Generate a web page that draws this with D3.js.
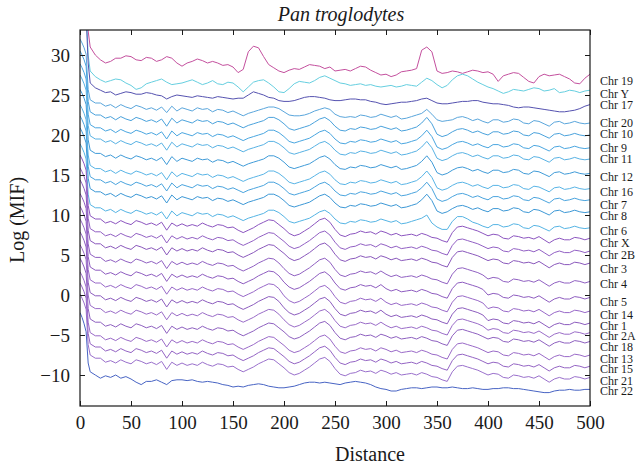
<!DOCTYPE html>
<html>
<head>
<meta charset="utf-8">
<script src="https://cdn.jsdelivr.net/npm/d3@7"></script>
<style>
  body { margin: 0; background: #fff; }
  text { font-family: "Liberation Serif", "Times New Roman", serif; fill: #1a1a1a; }
</style>
</head>
<body>
<div id="chart"></div>
<script>
// distances shared by every series
const distance = [0, 2, 4, 6, 8, 10, 15,
  20, 25, 30, 35, 40, 45, 50, 55, 60, 65, 70, 75, 80, 85, 90, 95, 100,
  105, 110, 115, 120, 125, 130, 135, 140, 145, 150, 155, 160, 165, 170, 175, 180, 185, 190, 195, 200,
  205, 210, 215, 220, 225, 230, 235, 240, 245, 250, 255, 260, 265, 270, 275, 280, 285, 290, 295, 300,
  305, 310, 315, 320, 325, 330, 335, 340, 345, 350, 355, 360, 365, 370, 375, 380, 385, 390, 395, 400,
  405, 410, 415, 420, 425, 430, 435, 440, 445, 450, 455, 460, 465, 470, 475, 480, 485, 490, 495, 500];

const chromosomes = ['Chr 19', 'Chr Y', 'Chr 17', 'Chr 20', 'Chr 10', 'Chr 9', 'Chr 11', 'Chr 12',
  'Chr 16', 'Chr 7', 'Chr 8', 'Chr 6', 'Chr X', 'Chr 2B', 'Chr 3', 'Chr 4', 'Chr 5', 'Chr 14',
  'Chr 1', 'Chr 2A', 'Chr 18', 'Chr 13', 'Chr 15', 'Chr 21', 'Chr 22'];

// log(MIF) values, one array per chromosome
const chr19 = [40, 39.5, 39, 38, 33, 31, 30.0,
  29.4, 29.0, 29.2, 29.6, 29.6, 29.9, 29.8, 29.4, 29.3, 29.7, 29.6, 29.2, 29.4, 29.8, 29.6, 29.0, 28.6,
  29.0, 29.2, 29.5, 29.3, 29.0, 29.2, 29.0, 28.7, 28.8, 28.5, 27.8, 28.2, 30.4, 31.1, 30.9, 29.8, 28.8, 28.4, 28.0, 27.8,
  28.1, 28.3, 28.2, 28.5, 28.8, 28.7, 28.6, 28.3, 28.5, 28.0, 28.1, 28.2, 28.0, 28.3, 28.6, 28.5, 28.1, 27.8, 27.5, 27.6,
  27.3, 27.5, 27.9, 28.0, 28.1, 28.3, 30.6, 31.0, 30.4, 28.0, 27.7, 27.8, 28.0, 27.9, 27.7, 27.9, 28.1, 28.0, 27.8, 27.9,
  27.6, 26.7, 27.4, 27.6, 27.8, 27.7, 27.2, 26.7, 26.5, 27.3, 27.6, 27.4, 27.5, 27.6, 27.3, 27.0, 26.5, 26.4, 27.1, 27.6];
const chrY = [38, 37.5, 37, 36, 30, 28, 27.3,
  26.9, 26.6, 26.8, 27.0, 26.9, 26.5, 26.2, 25.7, 25.9, 26.4, 26.6, 26.8, 27.0, 26.6, 26.3, 26.4, 26.5,
  26.7, 26.9, 26.6, 26.3, 26.5, 26.8, 26.4, 26.3, 26.6, 26.5, 26.0, 25.4, 26.0, 26.6, 26.8, 26.9, 26.5, 26.0, 25.4, 25.3,
  25.8, 26.4, 26.7, 26.6, 26.5, 26.8, 27.2, 27.4, 27.1, 26.8, 26.5, 26.4, 26.2, 26.3, 26.4, 26.2, 26.3, 26.1, 26.0, 26.1,
  26.2, 26.0, 26.1, 26.3, 26.2, 26.1, 26.6, 27.1, 26.8, 26.3, 25.9, 26.2, 26.9, 27.4, 27.6, 27.4, 27.0, 26.6, 26.3, 26.0,
  25.8, 25.5, 25.2, 25.4, 25.7, 25.6, 25.5, 25.7, 25.9, 25.8, 25.5, 25.6, 25.8, 25.3, 25.4, 25.6, 25.5, 25.3, 25.5, 25.6];
const chr17 = [37, 36.5, 36, 35, 29, 26.5, 25.9,
  25.6, 25.3, 25.4, 25.0, 25.2, 25.4, 25.3, 25.1, 25.1, 25.3, 25.2, 25.0, 24.9, 24.5, 24.8, 25.0, 24.9,
  24.8, 24.7, 24.9, 24.8, 24.7, 24.6, 24.8, 24.7, 24.6, 24.5, 24.6, 24.6, 25.0, 25.4, 25.2, 25.0, 24.7, 24.6, 24.3, 24.2,
  24.2, 24.3, 24.5, 24.7, 24.8, 24.8, 24.7, 24.6, 24.4, 24.3, 24.3, 24.4, 24.5, 24.5, 24.4, 24.4, 24.2, 24.1, 23.9, 23.8,
  23.9, 24.0, 24.1, 24.1, 24.2, 24.3, 24.5, 24.6, 24.3, 24.0, 23.9, 23.9, 24.0, 24.1, 24.2, 24.2, 24.3, 24.3, 24.1, 24.0,
  23.9, 23.9, 23.8, 23.7, 23.5, 23.4, 23.5, 23.5, 23.4, 23.3, 23.2, 23.1, 23.0, 22.9, 22.9, 23.0, 23.1, 23.3, 23.6, 23.8];
const chr20 = [32.0, 31.5, 30.9, 30.1, 25.7, 24.4, 24.0,
  24.0, 23.6, 23.8, 23.4, 23.8, 23.5, 23.3, 23.7, 23.5, 23.2, 23.4, 23.1, 23.5, 22.8, 23.6, 23.0, 23.4,
  23.2, 23.0, 23.4, 23.2, 23.3, 22.9, 23.2, 23.1, 22.8, 23.0, 22.7, 22.4, 22.7, 22.9, 23.1, 23.3, 23.5, 23.5, 23.3, 22.9,
  22.5, 22.4, 22.4, 22.5, 22.7, 23.0, 23.2, 23.4, 23.2, 22.6, 22.3, 22.2, 22.3, 22.2, 22.5, 22.4, 22.2, 22.3, 22.6, 22.4,
  22.2, 22.4, 22.0, 22.1, 22.3, 22.5, 22.7, 23.2, 22.6, 21.9, 21.7, 21.8, 21.9, 22.2, 22.3, 22.1, 21.8, 22.0, 21.7, 21.5,
  21.9, 21.9, 21.6, 21.7, 22.0, 21.9, 21.5, 21.4, 21.8, 21.7, 21.4, 21.1, 21.6, 21.7, 21.4, 21.5, 21.7, 21.5, 21.4, 21.5];
const chr10 = [30.5, 30.0, 29.4, 28.6, 24.2, 22.9, 22.5,
  22.5, 22.1, 22.3, 21.9, 22.3, 22.0, 21.8, 22.2, 22.0, 21.7, 21.9, 21.6, 22.0, 21.1, 22.1, 21.5, 21.9,
  21.7, 21.5, 21.9, 21.7, 21.8, 21.4, 21.7, 21.6, 21.3, 21.5, 21.2, 20.9, 21.2, 21.4, 21.6, 21.8, 22.2, 22.2, 21.9, 21.4,
  20.8, 20.6, 20.8, 21.0, 21.2, 21.6, 22.0, 22.2, 21.8, 21.1, 20.6, 20.5, 20.8, 20.7, 21.0, 20.9, 20.7, 20.8, 21.1, 20.9,
  20.7, 20.9, 20.5, 20.6, 20.8, 21.0, 21.5, 22.2, 21.4, 20.1, 19.8, 20.0, 20.4, 20.7, 20.8, 20.6, 20.3, 20.5, 20.2, 20.0,
  20.4, 20.4, 20.1, 20.2, 20.5, 20.4, 20.0, 19.9, 20.3, 20.2, 19.9, 19.6, 20.1, 20.2, 19.9, 20.0, 20.2, 20.0, 19.9, 20.0];
const chr9 = [28.9, 28.4, 27.8, 27.0, 22.6, 21.3, 20.9,
  20.9, 20.5, 20.7, 20.3, 20.7, 20.4, 20.2, 20.6, 20.4, 20.1, 20.3, 20.0, 20.4, 19.5, 20.5, 19.9, 20.3,
  20.1, 19.9, 20.3, 20.1, 20.2, 19.8, 20.1, 20.0, 19.7, 19.9, 19.6, 19.3, 19.6, 19.8, 20.0, 20.2, 20.6, 20.6, 20.3, 19.8,
  19.2, 19.0, 19.2, 19.4, 19.6, 20.0, 20.4, 20.6, 20.2, 19.5, 19.0, 18.9, 19.2, 19.1, 19.4, 19.3, 19.1, 19.2, 19.5, 19.3,
  19.1, 19.3, 18.9, 19.0, 19.2, 19.4, 19.9, 20.6, 19.8, 18.5, 18.2, 18.4, 18.8, 19.1, 19.2, 19.0, 18.7, 18.9, 18.6, 18.4,
  18.8, 18.8, 18.5, 18.6, 18.9, 18.8, 18.4, 18.3, 18.7, 18.6, 18.3, 18.0, 18.5, 18.6, 18.3, 18.4, 18.6, 18.4, 18.3, 18.4];
const chr11 = [27.5, 27.0, 26.4, 25.6, 21.2, 19.9, 19.5,
  19.5, 19.1, 19.3, 18.9, 19.3, 19.0, 18.8, 19.2, 19.0, 18.7, 18.9, 18.6, 19.0, 18.1, 19.1, 18.5, 18.9,
  18.7, 18.5, 18.9, 18.7, 18.8, 18.4, 18.7, 18.6, 18.3, 18.5, 18.2, 17.9, 18.2, 18.4, 18.6, 18.8, 19.2, 19.2, 18.9, 18.4,
  17.8, 17.6, 17.8, 18.0, 18.2, 18.6, 19.0, 19.2, 18.8, 18.1, 17.6, 17.5, 17.8, 17.7, 18.0, 17.9, 17.7, 17.8, 18.1, 17.9,
  17.7, 17.9, 17.5, 17.6, 17.8, 18.0, 18.5, 19.2, 18.4, 17.1, 16.8, 17.0, 17.4, 17.7, 17.8, 17.6, 17.3, 17.5, 17.2, 17.0,
  17.4, 17.4, 17.1, 17.2, 17.5, 17.4, 17.0, 16.9, 17.3, 17.2, 16.9, 16.6, 17.1, 17.2, 16.9, 17.0, 17.2, 17.0, 16.9, 17.0];
const chr12 = [25.7, 25.2, 24.6, 23.8, 19.4, 18.1, 17.7,
  17.7, 17.3, 17.5, 17.1, 17.5, 17.2, 17.0, 17.4, 17.2, 16.9, 17.1, 16.8, 17.2, 16.3, 17.3, 16.7, 17.1,
  16.9, 16.7, 17.1, 16.9, 17.0, 16.6, 16.9, 16.8, 16.5, 16.7, 16.4, 16.1, 16.4, 16.6, 16.8, 17.0, 17.4, 17.4, 17.1, 16.6,
  16.0, 15.8, 16.0, 16.2, 16.4, 16.8, 17.2, 17.4, 17.0, 16.3, 15.8, 15.7, 16.0, 15.9, 16.2, 16.1, 15.9, 16.0, 16.3, 16.1,
  15.9, 16.1, 15.7, 15.8, 16.0, 16.2, 16.7, 17.4, 16.6, 15.3, 15.0, 15.2, 15.6, 15.9, 16.0, 15.8, 15.5, 15.7, 15.4, 15.2,
  15.6, 15.6, 15.3, 15.4, 15.7, 15.6, 15.2, 15.1, 15.5, 15.4, 15.1, 14.8, 15.3, 15.4, 15.1, 15.2, 15.4, 15.2, 15.1, 15.2];
const chr16 = [23.8, 23.3, 22.7, 21.9, 17.5, 16.2, 15.8,
  15.8, 15.4, 15.6, 15.2, 15.6, 15.3, 15.1, 15.5, 15.3, 15.0, 15.2, 14.9, 15.3, 14.4, 15.4, 14.8, 15.2,
  15.0, 14.8, 15.2, 15.0, 15.1, 14.7, 15.0, 14.9, 14.6, 14.8, 14.5, 14.2, 14.5, 14.7, 14.9, 15.1, 15.5, 15.5, 15.2, 14.7,
  14.1, 13.9, 14.1, 14.3, 14.5, 14.9, 15.3, 15.5, 15.1, 14.4, 13.9, 13.8, 14.1, 14.0, 14.3, 14.2, 14.0, 14.1, 14.4, 14.2,
  14.0, 14.2, 13.8, 13.9, 14.1, 14.3, 14.8, 15.5, 14.7, 13.4, 13.1, 13.3, 13.7, 14.0, 14.1, 13.9, 13.6, 13.8, 13.5, 13.3,
  13.7, 13.7, 13.4, 13.5, 13.8, 13.7, 13.3, 13.2, 13.6, 13.5, 13.2, 12.9, 13.4, 13.5, 13.2, 13.3, 13.5, 13.3, 13.2, 13.3];
const chr7 = [22.4, 21.9, 21.3, 20.5, 16.1, 14.8, 14.4,
  14.4, 14.0, 14.2, 13.8, 14.2, 13.9, 13.7, 14.1, 13.9, 13.6, 13.8, 13.5, 13.9, 13.0, 14.0, 13.4, 13.8,
  13.6, 13.4, 13.8, 13.6, 13.7, 13.3, 13.6, 13.5, 13.2, 13.4, 13.1, 12.8, 13.1, 13.3, 13.5, 13.7, 14.1, 14.1, 13.8, 13.3,
  12.7, 12.5, 12.7, 12.9, 13.1, 13.5, 13.9, 14.1, 13.7, 13.0, 12.5, 12.4, 12.7, 12.6, 12.9, 12.8, 12.6, 12.7, 13.0, 12.8,
  12.6, 12.8, 12.4, 12.5, 12.7, 12.9, 13.4, 14.1, 13.3, 12.0, 11.7, 11.9, 12.3, 12.6, 12.7, 12.5, 12.2, 12.4, 12.1, 11.9,
  12.3, 12.3, 12.0, 12.1, 12.4, 12.3, 11.9, 11.8, 12.2, 12.1, 11.8, 11.5, 12.0, 12.1, 11.8, 11.9, 12.1, 11.9, 11.8, 11.9];
const chr8 = [20.9, 20.4, 19.8, 19.0, 14.6, 13.3, 12.9,
  12.9, 12.5, 12.7, 12.3, 12.7, 12.4, 12.2, 12.6, 12.4, 12.1, 12.3, 12.0, 12.4, 11.5, 12.5, 11.9, 12.3,
  12.1, 11.9, 12.3, 12.1, 12.2, 11.8, 12.1, 12.0, 11.7, 11.9, 11.6, 11.3, 11.6, 11.8, 12.0, 12.2, 12.6, 12.6, 12.3, 11.8,
  11.2, 11.0, 11.2, 11.4, 11.6, 12.0, 12.4, 12.6, 12.2, 11.5, 11.0, 10.9, 11.2, 11.1, 11.4, 11.3, 11.1, 11.2, 11.5, 11.3,
  11.1, 11.3, 10.9, 11.0, 11.2, 11.4, 11.9, 12.6, 11.8, 10.5, 10.2, 10.4, 10.8, 11.1, 11.2, 11.0, 10.7, 10.9, 10.6, 10.4,
  10.8, 10.8, 10.5, 10.6, 10.9, 10.8, 10.4, 10.3, 10.7, 10.6, 10.3, 10.0, 10.5, 10.6, 10.3, 10.4, 10.6, 10.4, 10.3, 10.4];
const chr6 = [18.9, 18.4, 17.8, 17.0, 12.6, 11.3, 10.9,
  10.9, 10.5, 10.7, 10.3, 10.7, 10.4, 10.2, 10.6, 10.4, 10.1, 10.3, 10.0, 10.4, 9.5, 10.5, 9.9, 10.3,
  10.1, 9.9, 10.3, 10.1, 10.2, 9.8, 10.1, 10.0, 9.7, 9.9, 9.6, 9.3, 9.6, 9.8, 10.0, 10.2, 10.6, 10.6, 10.3, 9.8,
  9.2, 9.0, 9.2, 9.4, 9.6, 10.0, 10.4, 10.6, 10.2, 9.5, 9.0, 8.9, 9.2, 9.1, 9.4, 9.3, 9.1, 9.2, 9.5, 9.3,
  9.1, 9.3, 8.9, 9.0, 9.2, 9.4, 9.6, 10.0, 9.0, 8.5, 8.2, 8.2, 9.2, 9.8, 9.8, 9.5, 9.1, 8.9, 8.6, 8.4,
  8.8, 8.8, 8.5, 8.6, 8.9, 8.8, 8.4, 8.3, 8.7, 8.6, 8.3, 8.0, 8.5, 8.6, 8.3, 8.4, 8.6, 8.4, 8.3, 8.4];
const chrX = [17.5, 17.0, 16.4, 15.6, 11.2, 9.9, 9.5,
  9.5, 9.0, 9.2, 8.9, 9.3, 9.0, 8.8, 9.3, 9.1, 8.8, 9.0, 8.7, 9.1, 8.1, 9.0, 8.6, 8.9,
  8.6, 8.8, 8.6, 9.0, 8.7, 8.5, 8.8, 8.7, 8.4, 8.5, 8.1, 7.8, 8.1, 8.4, 8.8, 9.1, 9.4, 9.3, 8.8, 8.3,
  7.7, 7.4, 7.6, 8.0, 8.4, 8.9, 9.4, 9.6, 9.1, 8.2, 7.5, 7.3, 7.6, 7.7, 8.0, 7.8, 7.9, 7.6, 8.0, 7.8,
  7.5, 7.7, 7.4, 7.5, 7.6, 7.4, 7.7, 7.5, 7.2, 7.1, 6.8, 6.6, 7.8, 8.5, 8.6, 8.4, 8.2, 8.0, 7.7, 7.4,
  7.6, 7.5, 7.1, 7.0, 7.4, 7.3, 7.1, 7.2, 7.0, 7.3, 6.9, 6.5, 6.9, 7.1, 6.9, 6.9, 7.2, 7.1, 6.9, 7.1];
const chr2B = [15.9, 15.4, 14.8, 14.0, 9.6, 8.3, 7.9,
  7.9, 7.4, 7.6, 7.3, 7.7, 7.4, 7.2, 7.7, 7.5, 7.2, 7.4, 7.1, 7.5, 6.5, 7.4, 7.0, 7.3,
  7.0, 7.2, 7.0, 7.4, 7.1, 6.9, 7.2, 7.1, 6.8, 6.9, 6.5, 6.2, 6.5, 6.8, 7.2, 7.5, 7.8, 7.7, 7.2, 6.7,
  6.1, 5.8, 6.0, 6.4, 6.8, 7.3, 7.8, 8.0, 7.5, 6.6, 5.9, 5.7, 6.0, 6.1, 6.4, 6.2, 6.3, 6.0, 6.4, 6.2,
  5.9, 6.1, 5.8, 5.9, 6.0, 5.8, 6.1, 5.9, 5.6, 5.5, 5.2, 5.0, 6.2, 6.9, 7.0, 6.8, 6.6, 6.4, 6.1, 5.8,
  6.0, 5.9, 5.5, 5.4, 5.8, 5.7, 5.5, 5.6, 5.4, 5.7, 5.3, 4.9, 5.3, 5.5, 5.3, 5.3, 5.6, 5.5, 5.3, 5.5];
const chr3 = [14.4, 13.9, 13.3, 12.5, 8.1, 6.8, 6.4,
  6.4, 5.9, 6.1, 5.8, 6.2, 5.9, 5.7, 6.2, 6.0, 5.7, 5.9, 5.6, 6.0, 5.0, 5.9, 5.5, 5.8,
  5.5, 5.7, 5.5, 5.9, 5.6, 5.4, 5.7, 5.6, 5.3, 5.4, 5.0, 4.7, 5.0, 5.3, 5.7, 6.0, 6.3, 6.2, 5.7, 5.2,
  4.6, 4.3, 4.5, 4.9, 5.3, 5.8, 6.3, 6.5, 6.0, 5.1, 4.4, 4.2, 4.5, 4.6, 4.9, 4.7, 4.8, 4.5, 4.9, 4.7,
  4.4, 4.6, 4.3, 4.4, 4.5, 4.3, 4.6, 4.4, 4.1, 4.0, 3.7, 3.5, 4.7, 5.4, 5.5, 5.3, 5.1, 4.9, 4.6, 4.3,
  4.5, 4.4, 4.0, 3.9, 4.3, 4.2, 4.0, 4.1, 3.9, 4.2, 3.8, 3.4, 3.8, 4.0, 3.8, 3.8, 4.1, 4.0, 3.8, 4.0];
const chr4 = [12.7, 12.2, 11.6, 10.8, 6.4, 5.1, 4.7,
  4.7, 4.2, 4.4, 4.1, 4.5, 4.2, 4.0, 4.5, 4.3, 4.0, 4.2, 3.9, 4.3, 3.3, 4.2, 3.8, 4.1,
  3.8, 4.0, 3.8, 4.2, 3.9, 3.7, 4.0, 3.9, 3.6, 3.7, 3.3, 3.0, 3.3, 3.6, 4.0, 4.3, 4.6, 4.5, 4.0, 3.3,
  2.7, 2.4, 2.6, 3.0, 3.4, 3.9, 4.4, 4.6, 4.1, 3.2, 2.5, 2.3, 2.6, 2.7, 3.0, 2.8, 2.9, 2.6, 3.0, 2.6,
  2.3, 2.5, 2.2, 2.3, 2.4, 2.2, 2.5, 2.3, 2.0, 1.9, 1.6, 1.4, 2.6, 3.3, 3.4, 3.2, 3.0, 2.8, 2.5, 2.0,
  2.2, 2.1, 1.7, 1.6, 2.0, 1.9, 1.7, 1.8, 1.6, 1.9, 1.5, 1.1, 1.5, 1.7, 1.5, 1.5, 1.8, 1.7, 1.5, 1.7];
const chr5 = [11.1, 10.6, 10.0, 9.2, 4.8, 3.5, 3.1,
  3.1, 2.6, 2.8, 2.5, 2.9, 2.6, 2.4, 2.9, 2.7, 2.4, 2.6, 2.3, 2.7, 1.7, 2.6, 2.2, 2.5,
  2.2, 2.4, 2.2, 2.6, 2.3, 2.1, 2.4, 2.3, 2.0, 2.1, 1.7, 1.4, 1.7, 2.0, 2.4, 2.7, 3.0, 2.9, 2.4, 1.6,
  1.0, 0.7, 0.9, 1.3, 1.7, 2.2, 2.7, 2.9, 2.4, 1.5, 0.8, 0.6, 0.9, 1.0, 1.3, 1.1, 1.2, 0.9, 1.3, 0.8,
  0.5, 0.7, 0.4, 0.5, 0.6, 0.4, 0.7, 0.5, 0.2, 0.1, -0.2, -0.4, 0.8, 1.5, 1.6, 1.4, 1.2, 1.0, 0.7, 0.0,
  0.2, 0.1, -0.3, -0.4, 0.0, -0.1, -0.3, -0.2, -0.4, -0.1, -0.5, -0.9, -0.5, -0.3, -0.5, -0.5, -0.2, -0.3, -0.5, -0.3];
const chr14 = [9.5, 9.0, 8.4, 7.6, 3.2, 1.9, 1.5,
  1.5, 1.0, 1.2, 0.9, 1.3, 1.0, 0.8, 1.3, 1.1, 0.8, 1.0, 0.7, 1.1, 0.1, 1.0, 0.6, 0.9,
  0.6, 0.8, 0.6, 1.0, 0.7, 0.5, 0.8, 0.7, 0.4, 0.5, 0.1, -0.2, 0.1, 0.4, 0.8, 1.1, 1.4, 1.3, 0.8, -0.1,
  -0.7, -1.0, -0.8, -0.4, 0.0, 0.5, 1.0, 1.2, 0.7, -0.2, -0.9, -1.1, -0.8, -0.7, -0.4, -0.6, -0.5, -0.8, -0.4, -0.9,
  -1.2, -1.0, -1.3, -1.2, -1.1, -1.3, -1.0, -1.2, -1.5, -1.6, -1.9, -2.1, -0.9, -0.2, -0.1, -0.3, -0.5, -0.7, -1.0, -1.7,
  -1.5, -1.6, -2.0, -2.1, -1.7, -1.8, -2.0, -1.9, -2.1, -1.8, -2.2, -2.6, -2.2, -2.0, -2.2, -2.2, -1.9, -2.0, -2.2, -2.0];
const chr1 = [7.9, 7.4, 6.8, 6.0, 1.6, 0.3, -0.1,
  -0.1, -0.6, -0.4, -0.7, -0.3, -0.6, -0.8, -0.3, -0.5, -0.8, -0.6, -0.9, -0.5, -1.5, -0.6, -1.0, -0.7,
  -1.0, -0.8, -1.0, -0.6, -0.9, -1.1, -0.8, -0.9, -1.2, -1.1, -1.5, -1.8, -1.5, -1.2, -0.8, -0.5, -0.2, -0.3, -0.8, -1.6,
  -2.2, -2.5, -2.3, -1.9, -1.5, -1.0, -0.5, -0.3, -0.8, -1.7, -2.4, -2.6, -2.3, -2.2, -1.9, -2.1, -2.0, -2.3, -1.9, -2.4,
  -2.7, -2.5, -2.8, -2.7, -2.6, -2.8, -2.5, -2.7, -3.0, -3.1, -3.4, -3.6, -2.4, -1.7, -1.6, -1.8, -2.0, -2.2, -2.5, -3.2,
  -3.0, -3.1, -3.5, -3.6, -3.2, -3.3, -3.5, -3.4, -3.6, -3.3, -3.7, -4.1, -3.7, -3.5, -3.7, -3.7, -3.4, -3.5, -3.7, -3.5];
const chr2A = [6.3, 5.8, 5.2, 4.4, 0.0, -1.3, -1.7,
  -1.7, -2.2, -2.0, -2.3, -1.9, -2.2, -2.4, -1.9, -2.1, -2.4, -2.2, -2.5, -2.1, -3.1, -2.2, -2.6, -2.3,
  -2.6, -2.4, -2.6, -2.2, -2.5, -2.7, -2.4, -2.5, -2.8, -2.7, -3.1, -3.4, -3.1, -2.8, -2.4, -2.1, -1.8, -1.9, -2.4, -3.1,
  -3.7, -4.0, -3.8, -3.4, -3.0, -2.5, -2.0, -1.8, -2.3, -3.2, -3.9, -4.1, -3.8, -3.7, -3.4, -3.6, -3.5, -3.8, -3.4, -3.8,
  -4.1, -3.9, -4.2, -4.1, -4.0, -4.2, -3.9, -4.1, -4.4, -4.5, -4.8, -5.0, -3.8, -3.1, -3.0, -3.2, -3.4, -3.6, -3.9, -4.4,
  -4.2, -4.3, -4.7, -4.8, -4.4, -4.5, -4.7, -4.6, -4.8, -4.5, -4.9, -5.3, -4.9, -4.7, -4.9, -4.9, -4.6, -4.7, -4.9, -4.7];
const chr18 = [4.6, 4.1, 3.5, 2.7, -1.7, -3.0, -3.4,
  -3.4, -3.9, -3.7, -4.0, -3.6, -3.9, -4.1, -3.6, -3.8, -4.1, -3.9, -4.2, -3.8, -4.8, -3.9, -4.3, -4.0,
  -4.3, -4.1, -4.3, -3.9, -4.2, -4.4, -4.1, -4.2, -4.5, -4.4, -4.8, -5.1, -4.8, -4.5, -4.1, -3.8, -3.5, -3.6, -4.1, -4.6,
  -5.2, -5.5, -5.3, -4.9, -4.5, -4.0, -3.5, -3.3, -3.8, -4.7, -5.4, -5.6, -5.3, -5.2, -4.9, -5.1, -5.0, -5.3, -4.9, -5.1,
  -5.4, -5.2, -5.5, -5.4, -5.3, -5.5, -5.2, -5.4, -5.7, -5.8, -6.1, -6.3, -5.1, -4.4, -4.3, -4.5, -4.7, -4.9, -5.2, -5.5,
  -5.3, -5.4, -5.8, -5.9, -5.5, -5.6, -5.8, -5.7, -5.9, -5.6, -6.0, -6.4, -6.0, -5.8, -6.0, -6.0, -5.7, -5.8, -6.0, -5.8];
const chr13 = [2.9, 2.4, 1.8, 1.0, -3.4, -4.7, -5.1,
  -5.1, -5.6, -5.4, -5.7, -5.3, -5.6, -5.8, -5.3, -5.5, -5.8, -5.6, -5.9, -5.5, -6.5, -5.6, -6.0, -5.7,
  -6.0, -5.8, -6.0, -5.6, -5.9, -6.1, -5.8, -5.9, -6.2, -6.1, -6.5, -6.8, -6.5, -6.2, -5.8, -5.5, -5.2, -5.3, -5.8, -6.3,
  -6.9, -7.2, -7.0, -6.6, -6.2, -5.7, -5.2, -5.0, -5.5, -6.4, -7.1, -7.3, -7.0, -6.9, -6.6, -6.8, -6.7, -7.0, -6.6, -6.8,
  -7.1, -6.9, -7.2, -7.1, -7.0, -7.2, -6.9, -7.1, -7.4, -7.5, -7.8, -8.0, -6.8, -6.1, -6.0, -6.2, -6.4, -6.6, -6.9, -7.2,
  -7.0, -7.1, -7.5, -7.6, -7.2, -7.3, -7.5, -7.4, -7.6, -7.3, -7.7, -8.1, -7.7, -7.5, -7.7, -7.7, -7.4, -7.5, -7.7, -7.5];
const chr15 = [1.5, 1.0, 0.4, -0.4, -4.8, -6.1, -6.5,
  -6.5, -7.0, -6.8, -7.1, -6.7, -7.0, -7.2, -6.7, -6.9, -7.2, -7.0, -7.3, -6.9, -7.9, -7.0, -7.4, -7.1,
  -7.4, -7.2, -7.4, -7.0, -7.3, -7.5, -7.2, -7.3, -7.6, -7.5, -7.9, -8.2, -7.9, -7.6, -7.2, -6.9, -6.6, -6.7, -7.2, -7.7,
  -8.3, -8.6, -8.4, -8.0, -7.6, -7.1, -6.6, -6.4, -6.9, -7.8, -8.5, -8.7, -8.4, -8.3, -8.0, -8.2, -8.1, -8.4, -8.0, -8.2,
  -8.5, -8.3, -8.6, -8.5, -8.4, -8.6, -8.3, -8.5, -8.8, -8.9, -9.2, -9.4, -8.2, -7.5, -7.4, -7.6, -7.8, -8.0, -8.3, -8.6,
  -8.4, -8.5, -8.9, -9.0, -8.6, -8.7, -8.9, -8.8, -9.0, -8.7, -9.1, -9.5, -9.1, -8.9, -9.1, -9.1, -8.8, -8.9, -9.1, -8.9];
const chr21 = [0.1, -0.4, -1.0, -1.8, -6.2, -7.5, -7.9,
  -7.9, -8.4, -8.2, -8.5, -8.1, -8.4, -8.6, -8.1, -8.3, -8.6, -8.4, -8.7, -8.3, -9.3, -8.4, -8.8, -8.5,
  -8.8, -8.6, -8.8, -8.4, -8.7, -8.9, -8.6, -8.7, -9.0, -8.9, -9.3, -9.6, -9.3, -9.0, -8.6, -8.3, -8.0, -8.1, -8.6, -9.1,
  -9.7, -10.0, -9.8, -9.4, -9.0, -8.5, -8.0, -7.8, -8.3, -9.2, -9.9, -10.1, -9.8, -9.7, -9.4, -9.6, -9.5, -9.8, -9.4, -9.6,
  -9.9, -9.7, -10.0, -9.9, -9.8, -10.0, -9.7, -9.9, -10.2, -10.3, -10.6, -10.8, -9.6, -8.9, -8.8, -9.0, -9.2, -9.4, -9.7, -10.0,
  -9.8, -9.9, -10.3, -10.4, -10.0, -10.1, -10.3, -10.2, -10.4, -10.1, -10.5, -10.9, -10.5, -10.3, -10.5, -10.5, -10.2, -10.3, -10.5, -10.3];
const chr22 = [-2.2, -2.8, -3.6, -4.6, -8.5, -9.6, -10.0,
  -10.4, -10.1, -10.3, -10.0, -10.4, -10.2, -10.5, -10.9, -11.2, -10.8, -10.8, -10.6, -10.9, -11.2, -10.7, -10.6, -10.6,
  -10.7, -10.6, -10.8, -10.9, -10.8, -10.9, -11.0, -11.2, -11.3, -11.5, -11.4, -11.5, -11.3, -11.2, -11.1, -11.2, -11.4, -11.5, -11.6, -11.6,
  -11.5, -11.4, -11.2, -11.0, -10.9, -10.9, -11.0, -10.9, -11.0, -11.1, -11.2, -11.0, -10.9, -10.8, -10.9, -11.0, -11.2, -11.5, -11.7, -11.8,
  -12.0, -12.0, -11.8, -11.7, -11.6, -11.6, -11.7, -11.6, -11.5, -11.5, -11.6, -11.6, -11.5, -11.6, -11.7, -11.7, -11.6, -11.7, -11.8, -11.8,
  -11.7, -11.7, -11.6, -11.6, -11.7, -11.7, -11.8, -11.9, -12.0, -12.1, -12.2, -12.2, -12.0, -11.9, -11.9, -11.8, -11.9, -11.9, -11.8, -11.8];

const seriesValues = [chr19, chrY, chr17, chr20, chr10, chr9, chr11, chr12, chr16, chr7, chr8, chr6,
  chrX, chr2B, chr3, chr4, chr5, chr14, chr1, chr2A, chr18, chr13, chr15, chr21, chr22];

const xTicks = [0, 50, 100, 150, 200, 250, 300, 350, 400, 450, 500];
const yTicks = [-10, -5, 0, 5, 10, 15, 20, 25, 30];

// label heights (in log MIF units) on the right side
const labelAt = [26.75, 25.15, 23.75, 21.55, 20.1, 18.35, 16.95, 14.75, 12.9, 11.3, 9.9, 8.0,
  6.5, 5.0, 3.3, 1.4, -0.9, -2.45, -3.85, -5.15, -6.45, -7.95, -9.3, -10.7, -12.0];

const lineColors = ['#c4509e', '#66cfe0', '#5552b0',
  '#5aa6dc', '#4aa2dc', '#4aa6e0', '#58b2e4', '#3f9bd8', '#58b4e6', '#4aa4de', '#3c98d6', '#55b4e4',
  '#8c55c0', '#9260c4', '#8a58bc', '#9060c2', '#8e5cc0', '#9868c8', '#8c5cbe', '#9a6cc8',
  '#8e60c0', '#9a6ac8', '#9464c4', '#9a70cc', '#4864c4'];

const width = 638, height = 467;
const plot = { left: 80, right: 590, top: 30, bottom: 406 };

const svg = d3.select('#chart').append('svg')
  .attr('width', width)
  .attr('height', height);

const x = d3.scaleLinear()
  .domain([0, 500])
  .range([plot.left, plot.right]);

const y = d3.scaleLinear()
  .domain([-13.875, 33.125])
  .range([plot.bottom, plot.top]);

svg.append('clipPath')
  .attr('id', 'plot-clip')
  .append('rect')
  .attr('x', plot.left)
  .attr('y', plot.top)
  .attr('width', plot.right - plot.left)
  .attr('height', plot.bottom - plot.top);

const line = d3.line()
  .x((d, i) => x(distance[i]))
  .y((d) => y(d));

svg.append('g')
  .attr('clip-path', 'url(#plot-clip)')
  .selectAll('path')
  .data(seriesValues)
  .enter()
  .append('path')
  .attr('fill', 'none')
  .attr('stroke', (d, i) => lineColors[i])
  .attr('stroke-width', 1)
  .attr('stroke-linejoin', 'round')
  .attr('d', line);

// axes with inward ticks on all four sides
const tickLen = 5;
svg.append('g')
  .attr('transform', 'translate(0,' + plot.bottom + ')')
  .call(d3.axisBottom(x).tickValues(xTicks).tickSize(-tickLen).tickPadding(10));
svg.append('g')
  .attr('transform', 'translate(' + plot.left + ',0)')
  .call(d3.axisLeft(y).tickValues(yTicks).tickSize(-tickLen).tickPadding(10));
svg.append('g')
  .attr('transform', 'translate(0,' + plot.top + ')')
  .call(d3.axisTop(x).tickValues(xTicks).tickSize(-tickLen).tickFormat(''));
svg.append('g')
  .attr('transform', 'translate(' + plot.right + ',0)')
  .call(d3.axisRight(y).tickValues(yTicks).tickSize(-tickLen).tickFormat(''));

svg.selectAll('.domain').remove();
svg.selectAll('.tick line').attr('stroke', '#1a1a1a').attr('stroke-width', 1);
svg.selectAll('.tick text')
  .style('font-family', '"Liberation Serif", serif')
  .style('font-size', '19px')
  .attr('fill', '#1a1a1a');

svg.append('rect')
  .attr('x', plot.left)
  .attr('y', plot.top)
  .attr('width', plot.right - plot.left)
  .attr('height', plot.bottom - plot.top)
  .attr('fill', 'none')
  .attr('stroke', '#1a1a1a')
  .attr('stroke-width', 1.2);

// chromosome labels
svg.append('g')
  .selectAll('text')
  .data(chromosomes)
  .enter()
  .append('text')
  .attr('x', plot.right + 10)
  .attr('y', (d, i) => y(labelAt[i]))
  .attr('dominant-baseline', 'central')
  .style('font-size', '12px')
  .text((d) => d);

svg.append('text')
  .attr('x', 341)
  .attr('y', 21)
  .attr('text-anchor', 'middle')
  .style('font-size', '20px')
  .style('font-style', 'italic')
  .text('Pan troglodytes');

svg.append('text')
  .attr('x', 370)
  .attr('y', 461)
  .attr('text-anchor', 'middle')
  .style('font-size', '20px')
  .text('Distance');

svg.append('text')
  .attr('transform', 'translate(24,220) rotate(-90)')
  .attr('text-anchor', 'middle')
  .style('font-size', '20px')
  .text('Log (MIF)');
</script>
</body>
</html>
